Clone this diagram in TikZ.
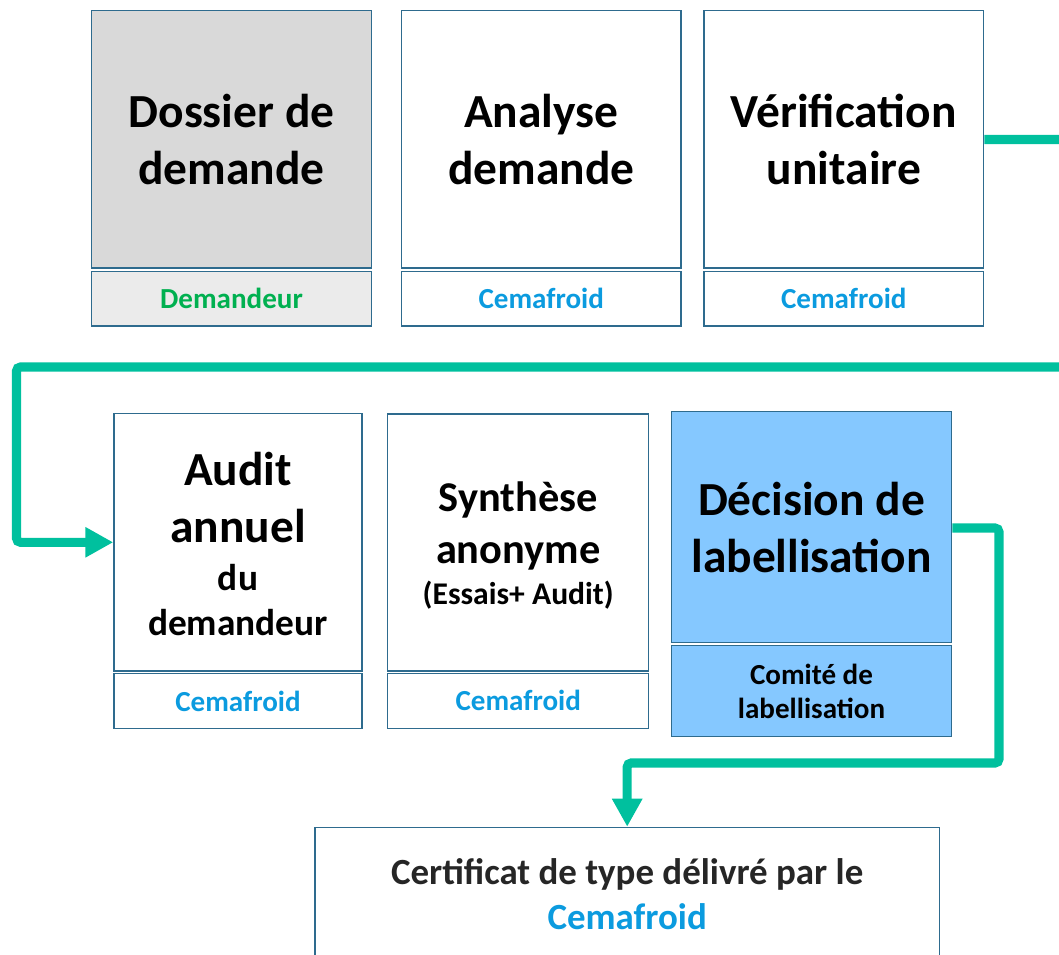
\documentclass[tikz,border=0pt]{standalone}
\usepackage{fontspec}
\setmainfont{Carlito}
\usetikzlibrary{arrows.meta}
\definecolor{bordc}{HTML}{2E6B8E}
\definecolor{flow}{HTML}{00C09E}
\definecolor{grayA}{HTML}{D9D9D9}
\definecolor{grayB}{HTML}{EBEBEB}
\definecolor{skyb}{HTML}{85C8FF}
\definecolor{greenT}{HTML}{00B050}
\definecolor{blueT}{HTML}{0B9BDF}
\definecolor{darkT}{HTML}{262626}
\tikzset{
  cell/.style={draw=bordc, line width=1.1pt, rectangle, inner sep=0pt, align=center, font=\bfseries},
  flowline/.style={draw=flow, line width=6.8pt, rounded corners=3pt},
  flowtip/.style={-{Triangle[length=21pt,width=21.5pt]}},
  big/.style={font=\bfseries\fontsize{35.6}{42.75}\selectfont},
  subl/.style={font=\bfseries\fontsize{21.8}{26}\selectfont},
  txt/.style={inner sep=0pt, anchor=base},
}
\begin{document}
\begin{tikzpicture}[x=0.75pt,y=-0.75pt]
\useasboundingbox (0,0) rectangle (1059,955);
\clip (0,0) rectangle (1059,955);
% top row
\node[cell, fill=grayA, minimum width=280*0.75pt, minimum height=257.5*0.75pt, big] (b1) at (231.5,139.3) {Dossier de\\demande};
\node[cell, fill=grayB, minimum width=280*0.75pt, minimum height=54.5*0.75pt, subl, text=greenT] (s1) at (231.5,298.8) {Demandeur};
\node[cell, minimum width=279.5*0.75pt, minimum height=257.5*0.75pt, big] (b2) at (541.3,139.3) {Analyse\\demande};
\node[cell, minimum width=279.5*0.75pt, minimum height=54.5*0.75pt, subl, text=blueT] (s2) at (541.3,298.8) {Cemafroid};
\node[cell, minimum width=279.5*0.75pt, minimum height=257.5*0.75pt, big] (b3) at (843.8,139.3) {Vérification\\unitaire};
\node[cell, minimum width=279.5*0.75pt, minimum height=54.5*0.75pt, subl, text=blueT] (s3) at (843.8,298.8) {Cemafroid};
% middle row
\node[cell, minimum width=248*0.75pt, minimum height=257.5*0.75pt] (b4) at (238,542.3) {};
\node[txt, font=\bfseries\fontsize{35.6}{42.75}\selectfont] (a1) at (238,485) {Audit};
\node[txt, font=\bfseries\fontsize{35.6}{42.75}\selectfont] (a2) at (238,542.3) {annuel};
\node[txt, font=\bfseries\fontsize{28}{33.75}\selectfont] (a3) at (238,590) {du};
\node[txt, font=\bfseries\fontsize{28}{33.75}\selectfont] (a4) at (238,635) {demandeur};
\node[cell, minimum width=248*0.75pt, minimum height=55*0.75pt, subl, text=blueT] (s4) at (238,701) {Cemafroid};
\node[cell, minimum width=261*0.75pt, minimum height=257*0.75pt] (b5) at (518.2,542.3) {};
\node[txt, font=\bfseries\fontsize{31.8}{38.25}\selectfont] (y1) at (518.2,511.7) {Synthèse};
\node[txt, font=\bfseries\fontsize{31.8}{38.25}\selectfont] (y2) at (518.2,563.3) {anonyme};
\node[txt, font=\bfseries\fontsize{23.7}{28}\selectfont] (y3) at (518.2,604) {(Essais+ Audit)};
\node[cell, minimum width=261*0.75pt, minimum height=55*0.75pt, subl, text=blueT] (s5) at (518.2,700.8) {Cemafroid};
\node[cell, fill=skyb, minimum width=280.5*0.75pt, minimum height=231*0.75pt, big] (b6) at (811.5,527.2) {Décision de\\labellisation};
\node[cell, fill=skyb, minimum width=280.5*0.75pt, minimum height=90.6*0.75pt, font=\bfseries\fontsize{21.8}{25.5}\selectfont] (s6) at (811.5,691) {Comité de\\labellisation};
% bottom
\node[cell, minimum width=624.5*0.75pt, minimum height=200*0.75pt, anchor=north] (b7) at (627.2,826.7) {};
\node[font=\bfseries\fontsize{27.7}{33.75}\selectfont, text=darkT, align=center, inner sep=0pt] (t7) at (627.2,894) {Certificat de type délivré par le\\\textcolor{blueT}{Cemafroid}};
% connectors
\coordinate (r1) at (1075,139.5);
\coordinate (r2) at (1075,367);
\coordinate (l1) at (16.5,367);
\draw[flowline, flowtip] (b3.east |- 0,139.5) -- (r1) -- (r2) -- (l1) -- (l1 |- b4.west) -- (b4.west);
\coordinate (c1) at (999,528);
\coordinate (c2) at (999,763);
\draw[flowline, flowtip] (b6.east |- c1) -- (c1) -- (c2) -- (c2 -| b7.north) -- (b7.north);
\end{tikzpicture}
\end{document}
